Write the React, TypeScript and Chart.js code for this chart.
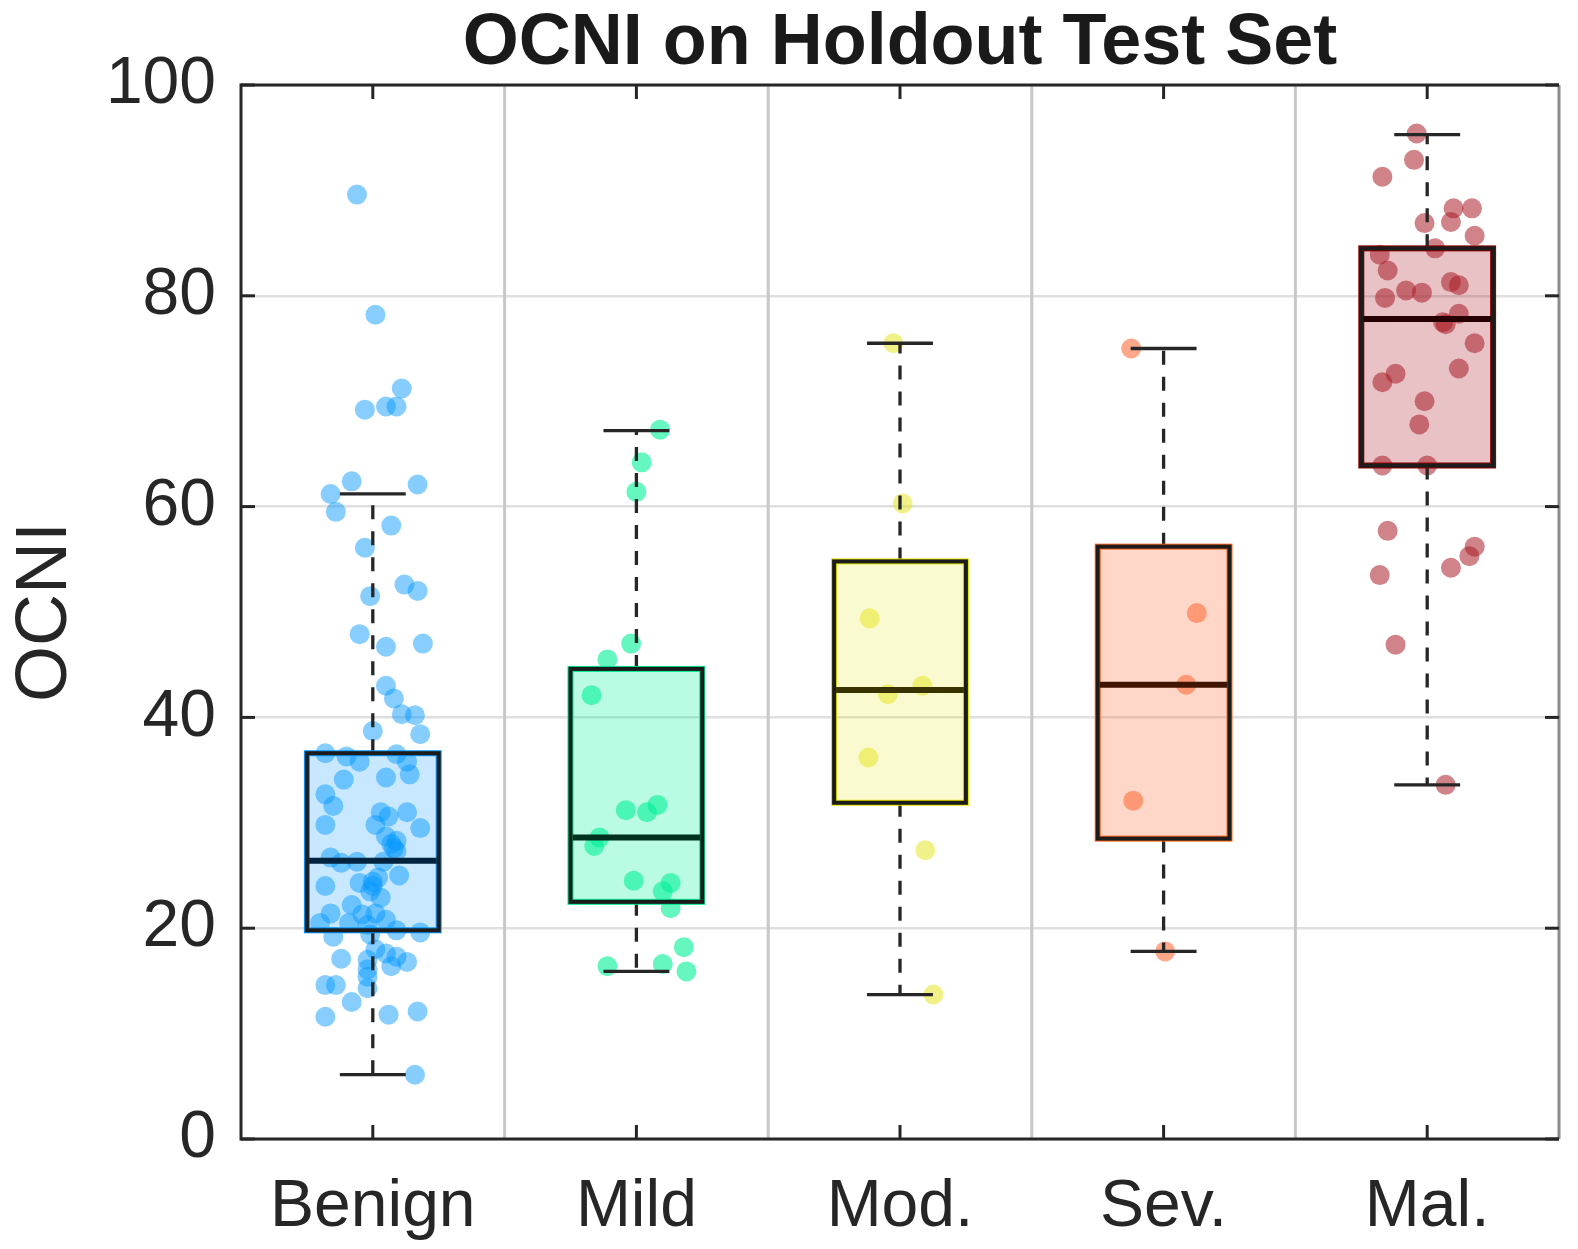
import { useEffect, useRef } from 'react';
import { Chart, registerables } from 'chart.js';
import type { Plugin } from 'chart.js';

Chart.register(...registerables);

const categories = ['Benign', 'Mild', 'Mod.', 'Sev.', 'Mal.'];
const yTicks = [0, 20, 40, 60, 80, 100];

// box statistics
const whiskerLow = [6.1, 15.9, 13.7, 17.8, 33.6];
const q1 = [19.8, 22.5, 31.9, 28.5, 63.9];
const median = [26.4, 28.6, 42.6, 43.1, 77.8];
const q3 = [36.6, 44.6, 54.8, 56.2, 84.5];
const whiskerHigh = [61.2, 67.2, 75.5, 75.0, 95.3];

// individual observations (value, horizontal jitter in category units)
const benignValues = [
  89.6, 78.2, 71.2, 69.2, 69.5, 69.5, 62.4, 61.2, 59.5, 62.1, 58.2, 56.1, 52.6, 52.0, 51.5,
  47.9, 46.7, 47.0, 43.0, 41.8, 40.3, 40.2, 38.7, 38.4, 36.6, 36.3, 35.8, 36.5, 35.8, 34.6,
  34.1, 34.3, 32.7, 31.6, 31.0, 30.6, 31.0, 29.8, 29.8, 29.5, 28.7, 28.3, 27.3, 28.0, 27.6,
  26.7, 26.2, 26.3, 26.3, 25.0, 24.0, 24.3, 24.4, 24.0, 23.5, 24.8, 22.9, 22.2, 21.4, 21.3,
  21.4, 20.8, 20.5, 20.5, 20.3, 19.8, 19.6, 19.2, 19.4, 18.0, 17.6, 17.0, 17.3, 16.8, 17.1,
  16.4, 16.1, 15.4, 14.6, 14.6, 14.3, 13.0, 11.6, 11.8, 12.1, 6.1,
];
const benignJitter = [
  -0.06, 0.01, 0.11, -0.03, 0.05, 0.09, -0.08, -0.16, -0.14, 0.17, 0.07, -0.03, 0.12, 0.17, -0.01,
  -0.05, 0.05, 0.19, 0.05, 0.08, 0.11, 0.16, 0.0, 0.18, -0.18, -0.1, -0.05, 0.09, 0.13, 0.14,
  -0.11, 0.05, -0.18, -0.15, 0.03, 0.06, 0.13, -0.18, 0.01, 0.18, 0.05, 0.09, 0.09, 0.07, 0.08,
  -0.16, -0.12, -0.06, 0.04, 0.1, -0.18, -0.05, 0.0, 0.0, -0.01, 0.02, 0.03, -0.08, -0.16, -0.04,
  0.01, 0.05, -0.2, -0.09, -0.02, 0.09, 0.18, -0.15, -0.01, 0.01, 0.05, -0.02, 0.09, 0.13, -0.12,
  0.07, -0.02, -0.02, -0.18, -0.14, -0.02, -0.08, -0.18, 0.06, 0.17, 0.16,
];

const mildValues = [67.3, 64.2, 61.4, 47.0, 45.5, 42.1, 31.2, 31.0, 31.7, 28.6, 27.8, 24.5, 24.3, 23.5, 21.9, 18.2, 16.4, 16.6, 15.9];
const mildJitter = [0.09, 0.02, 0.0, -0.02, -0.11, -0.17, -0.04, 0.04, 0.08, -0.14, -0.16, -0.01, 0.13, 0.1, 0.13, 0.18, -0.11, 0.1, 0.19];

const modValues = [75.5, 60.3, 49.4, 42.2, 43.0, 36.2, 27.4, 13.7];
const modJitter = [-0.025, 0.01, -0.115, -0.046, 0.085, -0.12, 0.096, 0.127];

const sevValues = [75.0, 49.9, 43.1, 32.1, 17.8];
const sevJitter = [-0.123, 0.126, 0.086, -0.115, 0.006];

const malValues = [
  95.4, 92.9, 91.3, 88.3, 88.3, 86.9, 87.0, 85.7, 84.5, 83.9, 82.4, 81.3, 81.0, 80.5, 80.3, 79.8, 78.3,
  77.5, 77.3, 75.5, 73.1, 72.6, 71.8, 70.0, 67.8, 63.9, 63.9, 57.7, 56.2, 55.3, 54.2, 53.5, 46.9, 33.6,
];
const malJitter = [
  -0.04, -0.05, -0.17, 0.1, 0.17, -0.01, 0.09, 0.18, 0.03, -0.18, -0.15, 0.09, 0.12, -0.08, -0.02, -0.16, 0.12,
  0.06, 0.07, 0.18, 0.12, -0.12, -0.17, -0.01, -0.03, -0.17, 0.0, -0.15, 0.18, 0.16, 0.09, -0.18, -0.12, 0.07,
];

const groupValues = [benignValues, mildValues, modValues, sevValues, malValues];
const groupJitter = [benignJitter, mildJitter, modJitter, sevJitter, malJitter];

// styling
const FONT = "'Liberation Sans', Arial, Helvetica, sans-serif";
const AXIS = '#262626';
const pointColor = ['rgba(0,150,255,0.47)', 'rgba(0,240,150,0.6)', 'rgba(230,230,40,0.55)', 'rgba(255,110,60,0.6)', 'rgba(170,30,40,0.55)'];
const boxFill = ['rgba(0,150,255,0.22)', 'rgba(0,240,150,0.27)', 'rgba(230,230,40,0.22)', 'rgba(255,110,60,0.28)', 'rgba(170,30,40,0.27)'];
const boxEdge = ['#0a9bff', '#00e890', '#e0e000', '#ff6420', '#8c0000'];
const medianColor = ['#00233f', '#00331f', '#383300', '#3f1500', '#260000'];
const BOX_HALF = 0.25;
const CAP_HALF = 0.125;
const TICK_LEN = 14;

function line(ctx: CanvasRenderingContext2D, x1: number, y1: number, x2: number, y2: number) {
  ctx.beginPath();
  ctx.moveTo(x1, y1);
  ctx.lineTo(x2, y2);
  ctx.stroke();
}

const boxPlugin: Plugin<'scatter'> = {
  id: 'boxes',
  beforeDatasetsDraw(chart) {
    const { ctx, chartArea: a } = chart;
    const x = chart.scales.x;
    ctx.save();
    ctx.strokeStyle = '#c8c8c8';
    ctx.lineWidth = 3;
    for (let i = 1; i < categories.length; i++) {
      const px = x.getPixelForValue(i + 0.5);
      line(ctx, px, a.top, px, a.bottom);
    }
    ctx.restore();
  },
  afterDatasetsDraw(chart) {
    const { ctx } = chart;
    const x = chart.scales.x;
    const y = chart.scales.y;
    ctx.save();
    categories.forEach((_, i) => {
      const cx = x.getPixelForValue(i + 1);
      const left = x.getPixelForValue(i + 1 - BOX_HALF);
      const right = x.getPixelForValue(i + 1 + BOX_HALF);
      const capL = x.getPixelForValue(i + 1 - CAP_HALF);
      const capR = x.getPixelForValue(i + 1 + CAP_HALF);
      const yLo = y.getPixelForValue(whiskerLow[i]);
      const yQ1 = y.getPixelForValue(q1[i]);
      const yMed = y.getPixelForValue(median[i]);
      const yQ3 = y.getPixelForValue(q3[i]);
      const yHi = y.getPixelForValue(whiskerHigh[i]);

      ctx.fillStyle = boxFill[i];
      ctx.fillRect(left, yQ3, right - left, yQ1 - yQ3);

      ctx.strokeStyle = AXIS;
      ctx.lineWidth = 3.3;
      ctx.setLineDash([14, 12]);
      line(ctx, cx, yQ3, cx, yHi);
      line(ctx, cx, yQ1, cx, yLo);
      ctx.setLineDash([]);
      line(ctx, capL, yHi, capR, yHi);
      line(ctx, capL, yLo, capR, yLo);

      ctx.strokeStyle = boxEdge[i];
      ctx.lineWidth = 6;
      ctx.strokeRect(left, yQ3, right - left, yQ1 - yQ3);
      ctx.strokeStyle = '#1c1c1c';
      ctx.lineWidth = 4;
      ctx.strokeRect(left, yQ3, right - left, yQ1 - yQ3);

      ctx.strokeStyle = medianColor[i];
      ctx.lineWidth = 6;
      line(ctx, left + 2, yMed, right - 2, yMed);
    });
    ctx.restore();
  },
  afterDraw(chart) {
    const { ctx, chartArea: a } = chart;
    const x = chart.scales.x;
    const y = chart.scales.y;
    ctx.save();
    ctx.lineWidth = 3;
    ctx.strokeStyle = '#8c8c8c';
    line(ctx, a.right, a.top, a.right, a.bottom);
    ctx.strokeStyle = AXIS;
    line(ctx, a.left, a.top - 1.5, a.left, a.bottom + 1.5);
    line(ctx, a.left, a.bottom, a.right, a.bottom);
    line(ctx, a.left, a.top, a.right, a.top);
    categories.forEach((_, i) => {
      const px = x.getPixelForValue(i + 1);
      line(ctx, px, a.bottom, px, a.bottom - TICK_LEN);
      line(ctx, px, a.top, px, a.top + TICK_LEN);
    });
    yTicks.forEach((v) => {
      const py = y.getPixelForValue(v);
      line(ctx, a.left, py, a.left + TICK_LEN, py);
      line(ctx, a.right, py, a.right - TICK_LEN, py);
    });
    ctx.restore();
  },
};

export default function App() {
  const canvasRef = useRef<HTMLCanvasElement>(null);

  useEffect(() => {
    if (!canvasRef.current) return;

    const datasets = categories.map((name, i) => ({
      label: name,
      data: groupValues[i].map((v, k) => ({ x: i + 1 + groupJitter[i][k], y: v })),
      backgroundColor: pointColor[i],
      borderWidth: 0,
      pointRadius: 10,
      pointHoverRadius: 10,
    }));

    const chart = new Chart(canvasRef.current, {
      type: 'scatter',
      data: { datasets },
      options: {
        animation: false,
        responsive: false,
        events: [],
        layout: { padding: { left: 0, right: 19, top: 0, bottom: 0 } },
        plugins: {
          legend: { display: false },
          tooltip: { enabled: false },
          title: {
            display: true,
            text: 'OCNI on Holdout Test Set',
            fullSize: false,
            color: '#1a1a1a',
            font: { family: FONT, size: 72, weight: 'bold', lineHeight: 1 },
            padding: { top: 8, bottom: 5 },
          },
        },
        scales: {
          x: {
            type: 'linear',
            min: 0.5,
            max: 5.5,
            afterBuildTicks: (s) => {
              s.ticks = categories.map((_, i) => ({ value: i + 1 }));
            },
            afterFit: (s) => {
              s.height = 110;
            },
            grid: { display: false },
            border: { display: false },
            ticks: {
              autoSkip: false,
              maxRotation: 0,
              padding: 21,
              color: AXIS,
              font: { family: FONT, size: 66, lineHeight: 1.2 },
              callback: (v) => categories[Number(v) - 1] ?? '',
            },
          },
          y: {
            min: 0,
            max: 100,
            afterBuildTicks: (s) => {
              s.ticks = yTicks.map((v) => ({ value: v }));
            },
            afterFit: (s) => {
              s.width = 241;
            },
            grid: { color: '#dfdfdf', lineWidth: 2.5, drawTicks: false },
            border: { display: false },
            ticks: {
              padding: 25,
              color: AXIS,
              font: { family: FONT, size: 66, lineHeight: 1.2 },
            },
            title: {
              display: true,
              text: 'OCNI',
              color: AXIS,
              font: { family: FONT, size: 72, lineHeight: 1 },
              padding: { top: 10, bottom: 0 },
            },
          },
        },
      },
      plugins: [boxPlugin],
    });

    return () => {
      chart.destroy();
    };
  }, []);

  return (
    <div style={{ position: 'fixed', left: 0, top: 0, width: 1578, height: 1249, background: '#fff' }}>
      <canvas ref={canvasRef} width={1578} height={1249} style={{ width: 1578, height: 1249, display: 'block' }} />
    </div>
  );
}
